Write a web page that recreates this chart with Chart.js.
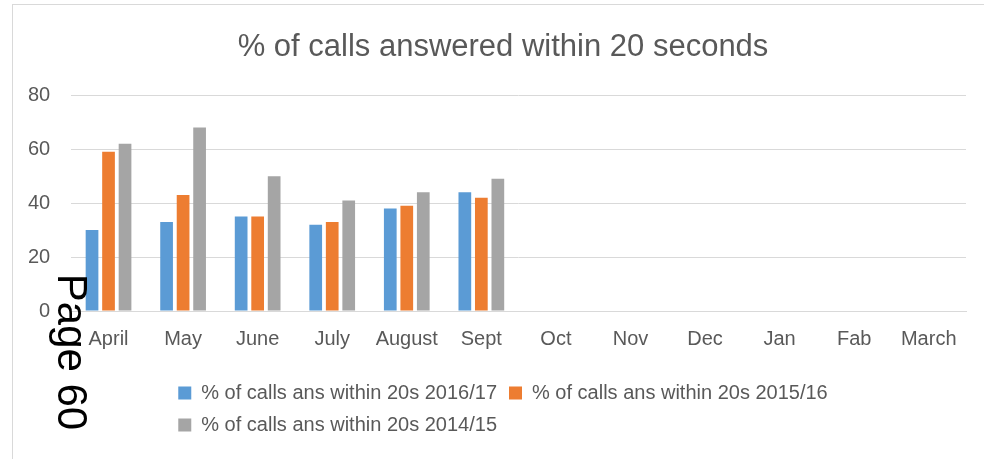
<!DOCTYPE html>
<html>
<head>
<meta charset="utf-8">
<script src="https://cdn.jsdelivr.net/npm/chart.js@4"></script>
<style>
  html, body { margin: 0; padding: 0; background: #fff; overflow: hidden; }
  #wrap { position: relative; width: 984px; height: 459px; }
  #frame {
    position: absolute; left: 12px; top: 4px; width: 1000px; height: 500px;
    border: 1px solid #d9d9d9; pointer-events: none;
  }
  #stamp {
    position: absolute; left: 72px; top: 352px;
    font: 42px "Liberation Sans", Arial, sans-serif; line-height: 1;
    color: #000; white-space: nowrap;
    transform: translate(-50%, -50%) rotate(90deg);
  }
</style>
</head>
<body>
<div id="wrap">
  <canvas id="callsChart"></canvas>
  <div id="frame"></div>
  <div id="stamp">Page 60</div>
</div>
<script>
const months = ["April", "May", "June", "July", "August", "Sept", "Oct", "Nov", "Dec", "Jan", "Fab", "March"];
const calls1617 = [30, 33, 35, 32, 38, 44, null, null, null, null, null, null];
const calls1516 = [59, 43, 35, 33, 39, 42, null, null, null, null, null, null];
const calls1415 = [62, 68, 50, 41, 44, 49, null, null, null, null, null, null];
const yTicks = [0, 20, 40, 60, 80];

const textColor = "#595959";
Chart.defaults.font.family = "'Liberation Sans', Arial, sans-serif";
Chart.defaults.color = textColor;

// centre title and legend on the frame; legend rows stay left aligned
const blockCentre = {
  id: "blockCentre",
  afterLayout(chart, args, opts) {
    const cx = opts.centre;
    const tb = chart.titleBlock;
    const dt = cx - (tb.left + tb.right) / 2;
    tb.left += dt;
    tb.right += dt;

    const lg = chart.legend;
    const pad = lg.options.labels.padding;
    const dl = cx - (lg.lineWidths[0] - pad) / 2 - lg.left - pad;
    lg.left += dl;
    lg.right += dl;
  },
};

function bars(label, values, color) {
  return {
    label: label,
    data: values,
    backgroundColor: color,
    borderWidth: 0,
    categoryPercentage: 0.664,
    barPercentage: 0.77,
  };
}

const ctx = document.getElementById("callsChart").getContext("2d");

const config = {
  type: "bar",
  data: {
    labels: months,
    datasets: [
      bars("% of calls ans within 20s 2016/17", calls1617, "#5b9bd5"),
      bars("% of calls ans within 20s 2015/16", calls1516, "#ed7d31"),
      bars("% of calls ans within 20s 2014/15", calls1415, "#a5a5a5"),
    ],
  },
  options: {
    responsive: true,
    maintainAspectRatio: false,
    animation: false,
    layout: { padding: { left: 7, right: 18, top: 0, bottom: 14 } },
    plugins: {
      blockCentre: { centre: 503 },
      title: {
        display: true,
        text: "% of calls answered within 20 seconds",
        color: textColor,
        font: { size: 31, weight: "normal" },
        padding: { top: 29, bottom: 29 },
      },
      legend: {
        position: "bottom",
        align: "start",
        labels: {
          boxWidth: 13,
          boxHeight: 13,
          padding: 12,
          color: textColor,
          font: { size: 20 },
        },
      },
      tooltip: { enabled: false },
    },
    scales: {
      x: {
        grid: { display: false, drawTicks: false },
        border: { display: true, color: "#d9d9d9" },
        ticks: { padding: 16, font: { size: 20 }, color: textColor },
        title: { display: true, text: "", font: { size: 1, lineHeight: 1 }, padding: { top: 3, bottom: 0 } },
      },
      y: {
        min: 0,
        max: 80,
        afterBuildTicks: (axis) => {
          axis.ticks = yTicks.map((v) => ({ value: v }));
        },
        grid: { color: "#d9d9d9", drawTicks: false },
        border: { display: false },
        ticks: { padding: 21, font: { size: 20 }, color: textColor },
      },
    },
  },
  plugins: [blockCentre],
};

let chart = new Chart(ctx, config);
</script>
</body>
</html>
